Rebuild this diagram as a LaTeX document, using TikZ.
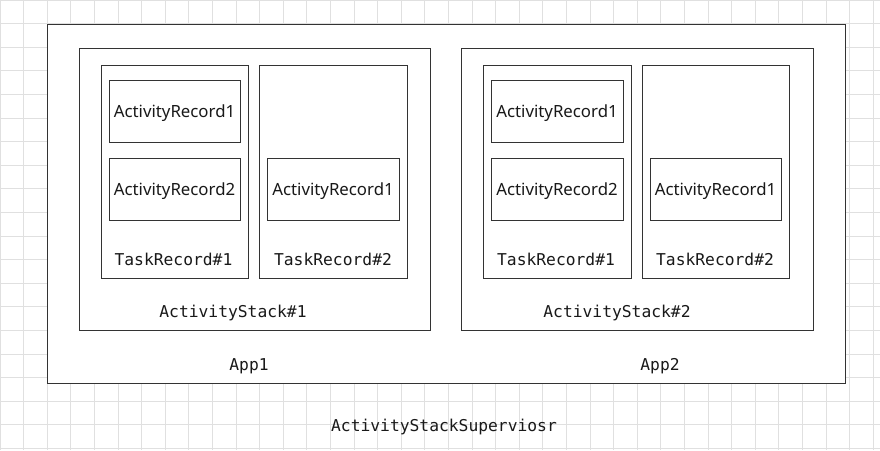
\documentclass[tikz,border=0pt]{standalone}
\usepackage{fontspec}
\newfontfamily\arfont{Noto Sans}
\newfontfamily\monofont{DejaVu Sans Mono}
\begin{document}
\begin{tikzpicture}[x=1pt,y=-1pt,
  box/.style={draw=black!80, line width=1pt, fill=white, rectangle, inner sep=0pt},
  artext/.style={font=\arfont\fontsize{16.8}{19}\selectfont, text=black!90, inner sep=0pt, yshift=-2.5pt},
  montext/.style={font=\monofont\fontsize{16.3}{19}\selectfont, text=black!90, inner sep=0pt, yshift=-1.5pt}]
\useasboundingbox (0,0) rectangle (880,450);
\fill[white] (0,0) rectangle (880,450);
% grid
\foreach \i in {0,...,37} {\draw[black!12, line width=0.9pt] (23.6*\i,0) -- (23.6*\i,450);}
\foreach \j in {0,...,19} {\draw[black!12, line width=0.9pt] (0,23.6*\j) -- (880,23.6*\j);}
% outer app box
\node[box, minimum width=798pt, minimum height=359pt] (app) at (446,203.5) {};
% activity stacks
\node[box, minimum width=351pt, minimum height=282pt] (as1) at (254.5,189) {};
\node[box, minimum width=352pt, minimum height=282pt] (as2) at (637,189) {};
% task records
\node[box, minimum width=147pt, minimum height=213pt] (tr11) at (174.5,171.5) {};
\node[box, minimum width=148pt, minimum height=213pt] (tr12) at (333,171.5) {};
\node[box, minimum width=148pt, minimum height=213pt] (tr21) at (557,171.5) {};
\node[box, minimum width=147pt, minimum height=213pt] (tr22) at (715.5,171.5) {};
% activity records
\node[box, minimum width=131pt, minimum height=62pt] (ar111) at (174.5,111) {};
\node[box, minimum width=131pt, minimum height=62pt] (ar112) at (174.5,189) {};
\node[box, minimum width=132pt, minimum height=62pt] (ar121) at (333,189) {};
\node[box, minimum width=132pt, minimum height=62pt] (ar211) at (557,111) {};
\node[box, minimum width=132pt, minimum height=62pt] (ar212) at (557,189) {};
\node[box, minimum width=131pt, minimum height=62pt] (ar221) at (715.5,189) {};
% activity record texts
\node[artext] (t111) at (ar111) {ActivityRecord1};
\node[artext] (t112) at (ar112) {ActivityRecord2};
\node[artext] (t121) at (ar121) {ActivityRecord1};
\node[artext] (t211) at (ar211) {ActivityRecord1};
\node[artext] (t212) at (ar212) {ActivityRecord2};
\node[artext] (t221) at (ar221) {ActivityRecord1};
% mono labels
\node[montext] (ltr11) at (173.5,258) {TaskRecord\#1};
\node[montext] (ltr12) at (333,258) {TaskRecord\#2};
\node[montext] (ltr21) at (556,258) {TaskRecord\#1};
\node[montext] (ltr22) at (715,258) {TaskRecord\#2};
\node[montext] (las1) at (233,311) {ActivityStack\#1};
\node[montext] (las2) at (617,311) {ActivityStack\#2};
\node[montext] (lapp1) at (249,365) {App1};
\node[montext] (lapp2) at (660,365) {App2};
\node[montext] (lsup) at (444,425) {ActivityStackSuperviosr};
\end{tikzpicture}
\end{document}
